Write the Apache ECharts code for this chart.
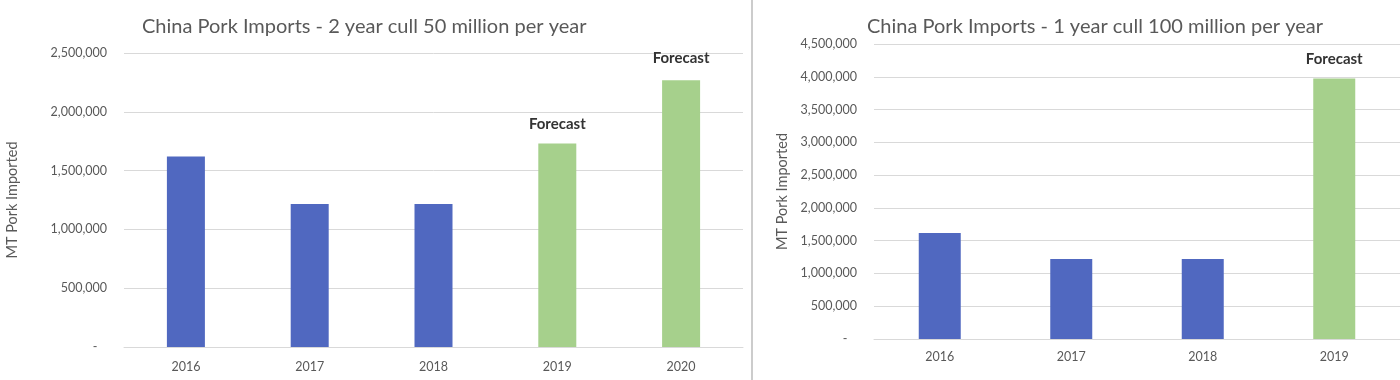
<!DOCTYPE html>
<html>
<head>
<meta charset="utf-8">
<script src="https://cdn.jsdelivr.net/npm/echarts@6/dist/echarts.min.js"></script>
<style>
html,body{margin:0;padding:0;background:#fff;}
#c{width:1400px;height:380px;}
</style>
</head>
<body>
<div id="c"></div>
<script>
// Chart 1: 2 year cull 50 million per year
var title1 = 'China Pork Imports - 2 year cull 50 million per year';
var years1 = ['2016', '2017', '2018', '2019', '2020'];
var imports1 = [1620000, 1215000, 1215000, 1730000, 2268000];
var forecast1 = [false, false, false, true, true];

// Chart 2: 1 year cull 100 million per year
var title2 = 'China Pork Imports - 1 year cull 100 million per year';
var years2 = ['2016', '2017', '2018', '2019'];
var imports2 = [1618000, 1220000, 1220000, 3972000];
var forecast2 = [false, false, false, true];

var yName = 'MT Pork Imported';
var forecastText = 'Forecast';
var FONT = 'Lato';
var BLUE = '#5068c0';
var GREEN = '#a6d08c';

function fmt(v) {
  if (v === 0) return '-   ';
  return v.toString().replace(/\B(?=(\d{3})+(?!\d))/g, ',');
}

function buildData(values, flags, dist) {
  return values.map(function (v, i) {
    var item = { value: v, itemStyle: { color: flags[i] ? GREEN : BLUE } };
    if (flags[i]) {
      item.label = {
        show: true, position: 'top', distance: dist[i] || 13,
        formatter: forecastText, color: '#333333', fontSize: 15,
        fontFamily: FONT, fontWeight: 'bold'
      };
    }
    return item;
  });
}

var chart = echarts.init(document.getElementById('c'), null, { renderer: 'canvas' });

function yAxisCfg(grid, max, gap) {
  return {
    gridIndex: grid, type: 'value', min: 0, max: max, interval: 500000,
    name: yName, nameLocation: 'middle', nameGap: gap, nameRotate: 90,
    nameTextStyle: { color: '#595959', fontSize: 14.5, fontFamily: FONT },
    axisLine: { show: false }, axisTick: { show: false },
    axisLabel: { color: '#595959', fontSize: 12.5, fontFamily: FONT, margin: 17, formatter: fmt },
    splitLine: { lineStyle: { color: '#d9d9d9', width: 1 } }
  };
}
function xAxisCfg(grid, data, margin) {
  return {
    gridIndex: grid, type: 'category', data: data,
    axisLine: { lineStyle: { color: '#d9d9d9', width: 1 } },
    axisTick: { show: false },
    axisLabel: { color: '#595959', fontSize: 12.5, fontFamily: FONT, margin: margin }
  };
}

chart.setOption({
  animation: false,
  backgroundColor: '#ffffff',
  title: [
    { text: title1, left: 137, top: 12, textStyle: { color: '#595959', fontSize: 20, fontWeight: 'normal', fontFamily: FONT } },
    { text: title2, left: 862, top: 12, textStyle: { color: '#595959', fontSize: 20, fontWeight: 'normal', fontFamily: FONT } }
  ],
  grid: [
    { left: 124, right: 657, top: 53, bottom: 33 },
    { left: 874, right: -16, top: 44, bottom: 41 }
  ],
  xAxis: [xAxisCfg(0, years1, 13), xAxisCfg(1, years2, 11)],
  yAxis: [yAxisCfg(0, 2500000, 104), yAxisCfg(1, 4500000, 84)],
  series: [
    { type: 'bar', xAxisIndex: 0, yAxisIndex: 0, barWidth: 38,
      data: buildData(imports1, forecast1, [0, 0, 0, 12, 15]) },
    { type: 'bar', xAxisIndex: 1, yAxisIndex: 1, barWidth: 42,
      data: buildData(imports2, forecast2, [0, 0, 0, 12]) }
  ],
  graphic: [
    { type: 'line', shape: { x1: 752, y1: 0, x2: 752, y2: 380 }, style: { stroke: '#cccccc', lineWidth: 2 } }
  ]
});
</script>
</body>
</html>
